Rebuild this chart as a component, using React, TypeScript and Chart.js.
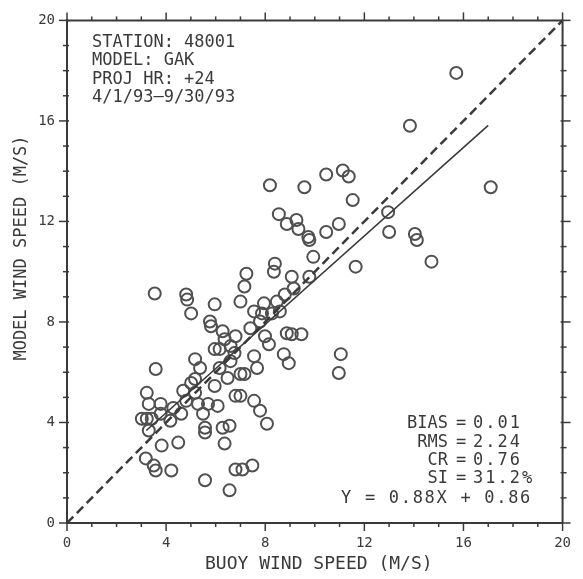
import React, { useEffect, useRef } from 'react';
import { Chart, registerables } from 'chart.js';

Chart.register(...registerables);

// ---- data ----
const BUOY_SPEED = [
  15.71, 13.84, 17.10, 8.19, 9.58, 10.46, 11.13, 11.37, 11.53, 8.55,
  8.87, 9.26, 9.34, 9.74, 9.78, 10.46, 10.97, 12.96, 13.00, 14.04,
  14.12, 14.71, 9.94, 11.65, 8.39, 8.35, 9.07, 9.15, 9.78, 7.24,
  7.16, 7.00, 7.55, 7.95, 8.47, 8.79, 7.87, 8.27, 8.59, 7.40,
  7.79, 7.99, 8.15, 7.55, 7.67, 8.87, 9.07, 9.46, 8.75, 8.95,
  11.05, 10.97, 3.54, 4.81, 4.85, 5.01, 5.96, 5.77, 5.81, 6.28,
  6.80, 6.36, 6.60, 5.96, 6.16, 6.76, 6.60, 5.17, 5.37, 6.16,
  6.48, 5.17, 7.00, 7.16, 3.58, 3.22, 3.30, 3.78, 3.02, 3.22,
  3.42, 3.78, 4.17, 4.61, 4.81, 4.69, 5.01, 5.17, 5.29, 5.69,
  6.08, 5.49, 5.57, 5.57, 6.28, 6.56, 6.36, 6.80, 7.00, 7.55,
  7.79, 8.07, 3.82, 4.49, 3.18, 3.50, 3.58, 4.21, 5.57, 6.56,
  6.80, 7.08, 7.48, 3.30, 5.96, 4.29,
];
const MODEL_SPEED = [
  17.91, 15.81, 13.36, 13.44, 13.36, 13.87, 14.03, 13.79, 12.85, 12.29,
  11.90, 12.06, 11.70, 11.38, 11.26, 11.58, 11.90, 12.37, 11.58, 11.50,
  11.26, 10.40, 10.59, 10.20, 10.32, 10.00, 9.80, 9.33, 9.80, 9.92,
  9.41, 8.81, 8.42, 8.74, 8.81, 9.09, 8.34, 8.34, 8.42, 7.75,
  8.02, 7.43, 7.11, 6.64, 6.17, 7.55, 7.51, 7.51, 6.72, 6.36,
  6.72, 5.97, 9.13, 9.09, 8.89, 8.34, 8.70, 8.02, 7.83, 7.63,
  7.43, 7.31, 7.04, 6.92, 6.92, 6.76, 6.44, 6.52, 6.17, 6.17,
  5.77, 5.73, 5.93, 5.93, 6.13, 5.18, 4.74, 4.74, 4.15, 4.15,
  4.15, 4.35, 4.07, 4.35, 4.86, 5.26, 5.57, 5.18, 4.74, 4.74,
  4.66, 4.35, 3.79, 3.60, 3.79, 3.87, 3.16, 5.06, 5.06, 4.86,
  4.47, 3.95, 3.08, 3.20, 2.57, 2.29, 2.09, 2.09, 1.70, 1.30,
  2.13, 2.13, 2.29, 3.68, 5.45, 4.58,
];
const ONE_TO_ONE_X = [0, 20];
const ONE_TO_ONE_Y = [0, 20];
const FIT_X = [3.2, 17.0];
const FIT_Y = [3.68, 15.82];
const AXIS_TICKS = [0, 4, 8, 12, 16, 20];
const MINOR_TICKS = [0, 1, 2, 3, 4, 5, 6, 7, 8, 9, 10, 11, 12, 13, 14, 15, 16, 17, 18, 19, 20];
const X_TITLE = 'BUOY WIND SPEED (M/S)';
const Y_TITLE = 'MODEL WIND SPEED (M/S)';
const INFO_LINES = ['STATION: 48001', 'MODEL: GAK', 'PROJ HR: +24', '4/1/93\u20149/30/93'];
const STAT_LABELS = ['BIAS', 'RMS', 'CR', 'SI'];
const STAT_VALUES = ['0.01', '2.24', '0.76', '31.2%'];
const FIT_TEXT = 'Y = 0.88X + 0.86';

const INK = '#3a3a3a';
const MONO = '"DejaVu Sans Mono", "Liberation Mono", monospace';

const decorPlugin = {
  id: 'decor',
  afterDraw(chart: any) {
    const { ctx, chartArea: a, scales } = chart;
    const x = scales.x;
    const y = scales.y;
    ctx.save();
    ctx.strokeStyle = INK;
    ctx.lineWidth = 2;
    ctx.beginPath();
    ctx.moveTo(a.left, a.top);
    ctx.lineTo(a.right, a.top);
    ctx.lineTo(a.right, a.bottom);
    ctx.stroke();

    ctx.lineWidth = 1.5;
    const seg = (x1: number, y1: number, x2: number, y2: number) => {
      ctx.beginPath();
      ctx.moveTo(x1, y1);
      ctx.lineTo(x2, y2);
      ctx.stroke();
    };
    MINOR_TICKS.forEach((v) => {
      const major = AXIS_TICKS.includes(v);
      const len = major ? 8 : 4;
      const px = x.getPixelForValue(v);
      const py = y.getPixelForValue(v);
      seg(px, a.bottom, px, a.bottom + len);
      seg(px, a.top, px, a.top - len);
      seg(a.left - len, py, a.left + 2, py);
      seg(a.right - 2, py, a.right + len, py);
    });

    ctx.fillStyle = INK;
    // axis titles
    ctx.font = `18px ${MONO}`;
    ctx.textAlign = 'center';
    ctx.textBaseline = 'middle';
    ctx.fillText(X_TITLE, (a.left + a.right) / 2 + 4, 564);
    ctx.save();
    ctx.translate(22, 248);
    ctx.rotate(-Math.PI / 2);
    ctx.font = `17px ${MONO}`;
    ctx.fillText(Y_TITLE, 0, 0);
    ctx.restore();

    // info block
    ctx.font = `17px ${MONO}`;
    ctx.textAlign = 'left';
    ctx.textBaseline = 'alphabetic';
    INFO_LINES.forEach((t, i) => ctx.fillText(t, 92, 47 + i * 18.4));

    // statistics block
    const statBase = [428, 447, 465, 483];
    STAT_LABELS.forEach((lab, i) => {
      ctx.textAlign = 'right';
      ctx.fillText(lab, 448, statBase[i]);
      ctx.textAlign = 'center';
      ctx.fillText('=', 461, statBase[i]);
    });
    const c: any = ctx;
    c.letterSpacing = '2px';
    STAT_VALUES.forEach((val, i) => {
      ctx.textAlign = 'left';
      ctx.fillText(val, 473, statBase[i]);
    });
    c.letterSpacing = '1.7px';
    ctx.textAlign = 'right';
    ctx.fillText(FIT_TEXT, 532, 503);
    c.letterSpacing = '0px';
    ctx.restore();
  },
};

export default function App() {
  const ref = useRef<HTMLCanvasElement>(null);
  useEffect(() => {
    if (!ref.current) return;
    const points = BUOY_SPEED.map((bx, i) => ({ x: bx, y: MODEL_SPEED[i] }));
    const tickFont = { family: MONO, size: 14 };
    const chart = new Chart(ref.current, {
      type: 'scatter',
      data: {
        datasets: [
          {
            type: 'line',
            data: ONE_TO_ONE_X.map((v, i) => ({ x: v, y: ONE_TO_ONE_Y[i] })),
            borderColor: '#3a3a3a',
            borderWidth: 2.5,
            borderDash: [9, 5],
            pointRadius: 0,
            fill: false,
          } as any,
          {
            type: 'line',
            data: FIT_X.map((v, i) => ({ x: v, y: FIT_Y[i] })),
            borderColor: '#3a3a3a',
            borderWidth: 1.6,
            pointRadius: 0,
            fill: false,
          } as any,
          {
            data: points,
            pointStyle: 'circle',
            pointRadius: 6,
            borderWidth: 2,
            borderColor: '#505050',
            backgroundColor: 'rgba(0,0,0,0)',
          },
        ],
      },
      options: {
        responsive: false,
        animation: false,
        layout: { padding: { left: 0, right: 13, top: 17, bottom: 0 } },
        plugins: { legend: { display: false }, tooltip: { enabled: false } },
        scales: {
          x: {
            type: 'linear',
            min: 0,
            max: 20,
            afterBuildTicks: (s: any) => {
              s.ticks = AXIS_TICKS.map((v) => ({ value: v }));
            },
            afterFit: (s: any) => {
              s.height = 56;
            },
            ticks: {
              font: tickFont,
              color: INK,
              padding: 12,
              maxRotation: 0,
              autoSkip: false,
              callback: (v: any) => String(v),
            },
            grid: { display: false, drawTicks: false },
            border: { display: true, color: INK, width: 2 },
          },
          y: {
            type: 'linear',
            min: 0,
            max: 20,
            afterBuildTicks: (s: any) => {
              s.ticks = AXIS_TICKS.map((v) => ({ value: v }));
            },
            afterFit: (s: any) => {
              s.width = 67;
            },
            ticks: {
              font: tickFont,
              color: INK,
              padding: 12,
              autoSkip: false,
              callback: (v: any) => String(v),
            },
            grid: { display: false, drawTicks: false },
            border: { display: true, color: INK, width: 2 },
          },
        },
      },
      plugins: [decorPlugin],
    });
    return () => chart.destroy();
  }, []);

  return (
    <div style={{ position: 'absolute', left: 0, top: 0, width: 583, height: 579, background: '#fff' }}>
      <canvas ref={ref} width={583} height={579} style={{ width: 583, height: 579 }} />
    </div>
  );
}
